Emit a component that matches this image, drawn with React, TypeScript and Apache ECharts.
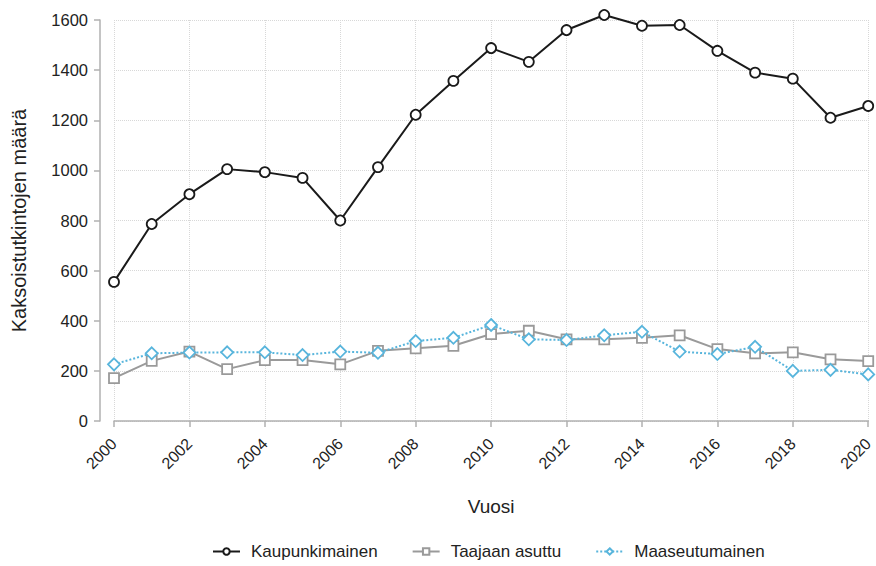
import React, { useEffect, useRef } from "react";
import * as echarts from "echarts";

const years = [2000, 2001, 2002, 2003, 2004, 2005, 2006, 2007, 2008, 2009, 2010, 2011, 2012, 2013, 2014, 2015, 2016, 2017, 2018, 2019, 2020];
const kaupunkimainen = [555, 786, 905, 1005, 993, 970, 800, 1013, 1222, 1357, 1488, 1433, 1560, 1620, 1577, 1580, 1477, 1390, 1366, 1210, 1257];
const taajaanAsuttu = [171, 240, 277, 207, 243, 243, 226, 280, 290, 300, 347, 360, 326, 326, 332, 342, 287, 270, 274, 246, 239];
const maaseutumainen = [226, 270, 273, 274, 274, 263, 277, 272, 319, 332, 383, 326, 323, 342, 356, 277, 267, 296, 200, 204, 186];

const seriesNames = ["Kaupunkimainen", "Taajaan asuttu", "Maaseutumainen"];

const FONT = "'Liberation Sans', Arial, sans-serif";

export default function App() {
  const ref = useRef<HTMLDivElement>(null);
  useEffect(() => {
    if (!ref.current) return;
    const chart = echarts.init(ref.current, undefined, { renderer: "svg" });
    const pair = (vals: number[]) => years.map((y, i) => [y, vals[i]]);
    chart.setOption({
      animation: false,
      backgroundColor: "#ffffff",
      textStyle: { fontFamily: FONT },
      grid: { left: 114, right: 3, top: 20, bottom: 145, containLabel: false },
      legend: {
        top: 538,
        left: 207,
        itemWidth: 27,
        itemHeight: 8,
        itemGap: 34,
        textStyle: { fontSize: 17, color: "#222", fontFamily: FONT, padding: [0, 0, 0, 6] },
        data: seriesNames,
      },
      xAxis: {
        type: "value",
        min: 2000,
        max: 2020,
        interval: 2,
        offset: 12,
        name: "Vuosi",
        nameLocation: "middle",
        nameGap: 64,
        nameTextStyle: { fontSize: 19, color: "#222", fontFamily: FONT },
        axisLine: { show: true, lineStyle: { color: "#b0b0b0", width: 1.5 } },
        axisTick: { show: true, length: 6, lineStyle: { color: "#b0b0b0", width: 1.5 } },
        axisLabel: { rotate: 45, fontSize: 16, color: "#222", margin: 8, fontFamily: FONT, formatter: (v: number) => String(v) },
        splitLine: { show: true, lineStyle: { type: "dotted", color: "#d8d8d8", width: 1 } },
      },
      yAxis: {
        type: "value",
        min: 0,
        max: 1600,
        interval: 200,
        offset: 14,
        name: "Kaksoistutkintojen määrä",
        nameLocation: "middle",
        nameGap: 71,
        nameTextStyle: { fontSize: 20, color: "#222", fontFamily: FONT },
        axisLine: { show: true, lineStyle: { color: "#b0b0b0", width: 1.5 } },
        axisTick: { show: true, length: 6, lineStyle: { color: "#b0b0b0", width: 1.5 } },
        axisLabel: { fontSize: 16.5, color: "#222", margin: 12, fontFamily: FONT, formatter: (v: number) => String(v) },
        splitLine: { show: true, lineStyle: { type: "dotted", color: "#d8d8d8", width: 1 } },
      },
      series: [
        {
          name: seriesNames[0],
          type: "line",
          data: pair(kaupunkimainen),
          symbol: "circle",
          symbolSize: 10,
          clip: false,
          color: "#1a1a1a",
          lineStyle: { color: "#1a1a1a", width: 2 },
          itemStyle: { color: "#ffffff", borderColor: "#1a1a1a", borderWidth: 1.8 },
          z: 4,
        },
        {
          name: seriesNames[1],
          type: "line",
          data: pair(taajaanAsuttu),
          symbol: "rect",
          symbolSize: 10,
          clip: false,
          color: "#9a9a9a",
          lineStyle: { color: "#9a9a9a", width: 2 },
          itemStyle: { color: "#ffffff", borderColor: "#9a9a9a", borderWidth: 1.8 },
          z: 2,
        },
        {
          name: seriesNames[2],
          type: "line",
          data: pair(maaseutumainen),
          symbol: "diamond",
          symbolSize: 12,
          clip: false,
          color: "#58b5dc",
          lineStyle: { color: "#58b5dc", width: 2, type: "dotted" },
          itemStyle: { color: "#ffffff", borderColor: "#58b5dc", borderWidth: 1.8 },
          z: 3,
        },
      ],
    });
    return () => chart.dispose();
  }, []);
  return <div ref={ref} style={{ position: "fixed", left: 0, top: 0, width: 876, height: 566 }} />;
}
